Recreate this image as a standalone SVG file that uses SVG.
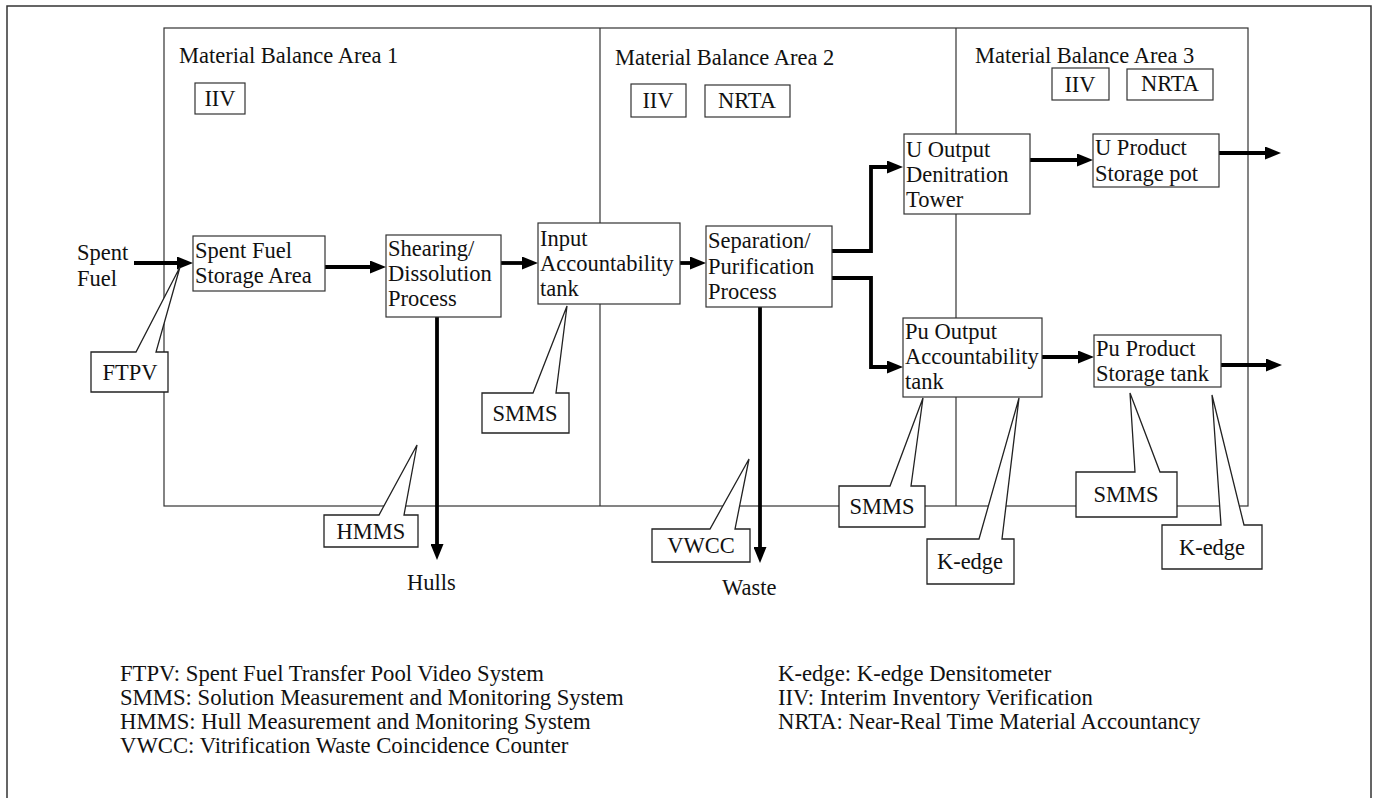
<svg xmlns="http://www.w3.org/2000/svg" width="1374" height="798" viewBox="0 0 1374 798">
<style>
text{font-family:"Liberation Serif","Times New Roman",serif;font-size:22.5px;fill:#111}
.c{text-anchor:middle}
.lg{font-size:22.7px}
.box{fill:#fff;stroke:#333;stroke-width:1.2}
.call{fill:#fff;stroke:#222;stroke-width:1.3;stroke-linejoin:miter}
.area{fill:none;stroke:#333;stroke-width:1.2}
.flow{fill:none;stroke:#000;stroke-width:3.8}
</style>
<defs>
<marker id="ah" markerUnits="userSpaceOnUse" markerWidth="16" markerHeight="13" refX="10" refY="6.5" orient="auto">
<path d="M0,0 L16,6.5 L0,13 z" fill="#000"/>
</marker>
</defs>
<rect x="7" y="6" width="1364" height="800" fill="none" stroke="#333" stroke-width="1.5"/>
<g id="areas">
<rect class="area" x="164" y="28" width="1084" height="478"/>
<line class="area" x1="600" y1="28" x2="600" y2="506"/>
<line class="area" x1="956" y1="28" x2="956" y2="506"/>
<text x="179" y="63">Material Balance Area 1</text>
<text x="615" y="65">Material Balance Area 2</text>
<text x="975" y="63">Material Balance Area 3</text>
</g>
<g id="tags">
<rect class="box" x="195" y="83" width="50" height="31"/><text class="c" x="220" y="106">IIV</text>
<rect class="box" x="631" y="84" width="55" height="33"/><text class="c" x="658" y="108">IIV</text>
<rect class="box" x="705" y="85" width="85" height="32"/><text class="c" x="747" y="108">NRTA</text>
<rect class="box" x="1052" y="68" width="57" height="32"/><text class="c" x="1080" y="92">IIV</text>
<rect class="box" x="1127" y="69" width="86" height="31"/><text class="c" x="1170" y="91">NRTA</text>
</g>
<g id="connectors">
<path class="flow" d="M134,263 H187" marker-end="url(#ah)"/>
<path class="flow" d="M325,267 H380" marker-end="url(#ah)"/>
<path class="flow" d="M501,263 H532" marker-end="url(#ah)"/>
<path class="flow" d="M680,263 H700" marker-end="url(#ah)"/>
<path class="flow" d="M832,251 H871 V167 H897" marker-end="url(#ah)"/>
<path class="flow" d="M832,278 H871 V367 H897" marker-end="url(#ah)"/>
<path class="flow" d="M1030,160 H1087" marker-end="url(#ah)"/>
<path class="flow" d="M1042,357 H1088" marker-end="url(#ah)"/>
<path class="flow" d="M1219,153 H1275" marker-end="url(#ah)"/>
<path class="flow" d="M1221,365 H1276" marker-end="url(#ah)"/>
<path class="flow" d="M437,317 V554" marker-end="url(#ah)"/>
<path class="flow" d="M760,307 V557" marker-end="url(#ah)"/>
</g>
<g id="spent-fuel-label"><text x="77" y="260">Spent</text><text x="77" y="286">Fuel</text></g>
<g id="sfsa"><rect class="box" x="193" y="236" width="132" height="55"/><text x="195" y="258">Spent Fuel</text><text x="195" y="283">Storage Area</text></g>
<g id="shearing"><rect class="box" x="386" y="235" width="115" height="82"/><text x="388" y="256">Shearing/</text><text x="388" y="281">Dissolution</text><text x="388" y="306">Process</text></g>
<g id="input-tank"><rect class="box" x="538" y="223" width="142" height="81"/><text x="540" y="246">Input</text><text x="540" y="271">Accountability</text><text x="540" y="296">tank</text></g>
<g id="separation"><rect class="box" x="706" y="226" width="126" height="81"/><text x="708" y="248">Separation/</text><text x="708" y="274">Purification</text><text x="708" y="299">Process</text></g>
<g id="u-output"><rect class="box" x="904" y="134" width="126" height="80"/><text x="906" y="157">U Output</text><text x="906" y="182">Denitration</text><text x="906" y="207">Tower</text></g>
<g id="u-product"><rect class="box" x="1093" y="134" width="126" height="53"/><text x="1095" y="155">U Product</text><text x="1095" y="181">Storage pot</text></g>
<g id="pu-output"><rect class="box" x="903" y="318" width="139" height="79"/><text x="905" y="339">Pu Output</text><text x="905" y="364">Accountability</text><text x="905" y="389">tank</text></g>
<g id="pu-product"><rect class="box" x="1094" y="335" width="127" height="52"/><text x="1096" y="356">Pu Product</text><text x="1096" y="381">Storage tank</text></g>
<g id="hulls-label"><text x="407" y="590">Hulls</text></g>
<g id="waste-label"><text x="722" y="595">Waste</text></g>
<g id="callout-ftpv"><path class="call" d="M91,352 H136 L180,267 L156,352 H168 V392 H91 Z"/><text class="c" x="130" y="380">FTPV</text></g>
<g id="callout-smms-1"><path class="call" d="M482,393 H533 L567,306 L556,393 H569 V433 H482 Z"/><text class="c" x="525" y="421">SMMS</text></g>
<g id="callout-hmms"><path class="call" d="M324,515 H379 L417,445 L404,515 H418 V547 H324 Z"/><text class="c" x="371" y="539">HMMS</text></g>
<g id="callout-vwcc"><path class="call" d="M652,529 H710 L749,459 L735,529 H750 V562 H652 Z"/><text class="c" x="701" y="553">VWCC</text></g>
<g id="callout-smms-2"><path class="call" d="M839,486 H890 L923,398 L911,486 H925 V527 H839 Z"/><text class="c" x="882" y="514">SMMS</text></g>
<g id="callout-kedge-1"><path class="call" d="M927,539 H979 L1019,398 L1002,539 H1014 V584 H927 Z"/><text class="c" x="970" y="569">K-edge</text></g>
<g id="callout-smms-3"><path class="call" d="M1076,472 H1135 L1130,393 L1160,472 H1177 V517 H1076 Z"/><text class="c" x="1126" y="502">SMMS</text></g>
<g id="callout-kedge-2"><path class="call" d="M1162,525 H1221 L1212,395 L1244,525 H1262 V569 H1162 Z"/><text class="c" x="1212" y="555">K-edge</text></g>
<g id="legend" class="lg">
<text class="lg" x="120" y="681">FTPV: Spent Fuel Transfer Pool Video System</text>
<text class="lg" x="120" y="705">SMMS: Solution Measurement and Monitoring System</text>
<text class="lg" x="120" y="729">HMMS: Hull Measurement and Monitoring System</text>
<text class="lg" x="120" y="753">VWCC: Vitrification Waste Coincidence Counter</text>
<text class="lg" x="778" y="681">K-edge: K-edge Densitometer</text>
<text class="lg" x="778" y="705">IIV: Interim Inventory Verification</text>
<text class="lg" x="778" y="729">NRTA: Near-Real Time Material Accountancy</text>
</g>
</svg>
